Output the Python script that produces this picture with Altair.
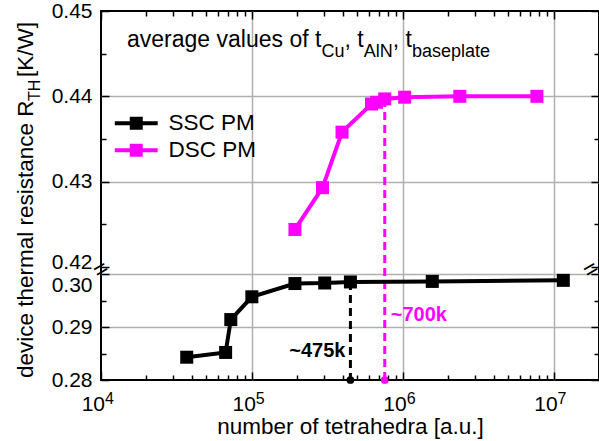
import altair as alt
import pandas as pd

FONT = "Liberation Sans, Arial, Helvetica, sans-serif"

# ---- data ----
SERIES = ["SSC PM", "DSC PM"]
COLORS = ["#000000", "#ff00ff"]

ssc_n = [37000, 67000, 72500, 100000, 193000, 304000, 450000, 1570000, 11600000]
ssc_r = [0.2843, 0.2852, 0.2914, 0.2957, 0.2982, 0.2983, 0.2985, 0.2986, 0.2988]

dsc_n = [193000, 294000, 396000, 621000, 670000, 760000, 1030000, 2390000, 7750000]
dsc_r = [0.4244, 0.4293, 0.4358, 0.4391, 0.4393, 0.4397, 0.4399, 0.4400, 0.4400]

mark_n = [450000, 760000]
mark_r = [0.2985, 0.4397]
mark_label = ["~475k", "~700k"]
mark_series = ["SSC PM", "DSC PM"]

# axis values and tick labels
x_major = [1e4, 1e5, 1e6, 1e7]
x_label_base = ["10", "10", "10", "10"]
x_label_exp = ["4", "5", "6", "7"]
x_minor = [m * 10 ** k for k in (4, 5, 6) for m in range(2, 10)] + [2e7]
y_major = [0.28, 0.29, 0.30, 0.42, 0.43, 0.44, 0.45]
y_minor = [0.285, 0.295, 0.425, 0.435, 0.445]
Y_BASE = 0.28

note_main = ["average values of t", ", t", ", t"]
note_sub = ["Cu", "AlN", "baseplate"]
ytitle_parts = ["device thermal resistance R", "TH", "[K/W]"]
x_title = "number of tetrahedra [a.u.]"

# ---- tables ----
df = pd.DataFrame({
    "n": ssc_n + dsc_n,
    "r": ssc_r + dsc_r,
    "s": [SERIES[0]] * len(ssc_n) + [SERIES[1]] * len(dsc_n),
})
mk = pd.DataFrame({"n": mark_n, "r": mark_r, "s": mark_series, "t": mark_label,
                   "y0": [Y_BASE] * len(mark_n)})
xl = pd.DataFrame({"n": x_major, "b": x_label_base, "e": x_label_exp})
one = pd.DataFrame({"k": [0]})

W, H = 498, 369
xs = alt.Scale(type="log", domain=[1e4, 2e7], nice=False)
ys = alt.Scale(type="linear", domain=[0.28, 0.30, 0.42, 0.45], range=[H, 263, 256, 0],
               nice=False, zero=False)
cs = alt.Scale(domain=SERIES, range=COLORS)

GRID = "#b0b0b0"

main_x_axis = alt.Axis(
    orient="bottom", values=x_major, ticks=False, domain=False, grid=True, labels=False,
    gridColor=GRID, gridWidth=1.5,
    gridOpacity={"condition": {"test": "datum.value == 10000", "value": 0}, "value": 1},
    title=x_title, titleFontSize=22.5, titleFontWeight="normal", titleColor="black",
    titleX=W / 2, titleY=53, titleBaseline="alphabetic", titleAlign="center",
)
main_y_axis = alt.Axis(
    orient="left", values=y_major, format=".2f", ticks=False, domain=False, grid=True,
    gridColor=GRID, gridWidth=1.5,
    gridOpacity={"condition": {"test": "datum.value == 0.28 || datum.value == 0.42 || datum.value == 0.45",
                               "value": 0}, "value": 1},
    labelOffset={"condition": [{"test": "datum.value == 0.42", "value": -5},
                               {"test": "datum.value == 0.3", "value": 11}], "value": 0},
    labelFontSize=21, labelPadding=9, labelFlush=False, labelOverlap=False, labelColor="black",
    title=None,
)


def tick_axis(orient, vals, size):
    return alt.Axis(orient=orient, values=vals, offset=-size, tickSize=size, tickWidth=1.5,
                    tickColor="black", ticks=True, labels=False, domain=False, grid=False,
                    title=None, zindex=1)


def axis_layer(ax_x, ax_y):
    return alt.Chart(df).mark_point(opacity=0).encode(
        x=alt.X("n:Q", scale=xs, axis=ax_x),
        y=alt.Y("r:Q", scale=ys, axis=ax_y),
    )


layers = [
    axis_layer(main_x_axis, main_y_axis),
    axis_layer(tick_axis("bottom", x_major, 8), tick_axis("left", y_major, 8)),
    axis_layer(tick_axis("bottom", x_minor, 5), tick_axis("left", y_minor, 5)),
    axis_layer(tick_axis("top", x_major, 8), tick_axis("right", y_major, 8)),
    axis_layer(tick_axis("top", x_minor, 5), tick_axis("right", y_minor, 5)),
]

X = alt.X("n:Q", scale=xs, axis=None)
Y = alt.Y("r:Q", scale=ys, axis=None)

# x tick labels 10^k drawn as text with a real superscript
xlab_base = alt.Chart(xl).mark_text(
    align="right", baseline="alphabetic", dx=4, fontSize=21, font=FONT, color="black"
).encode(x=X, y=alt.value(H + 31), text="b:N")
xlab_exp = alt.Chart(xl).mark_text(
    align="left", baseline="alphabetic", dx=4, fontSize=16, font=FONT, color="black"
).encode(x=X, y=alt.value(H + 24), text="e:N")

rules = alt.Chart(mk).mark_rule(strokeDash=[8, 5], strokeWidth=3).encode(
    x=X, y=Y, y2=alt.Y2("y0:Q"),
    color=alt.Color("s:N", scale=cs, legend=None),
)
dots = alt.Chart(mk).mark_circle(size=60, opacity=1).encode(
    x=X, y=alt.Y("y0:Q", scale=ys, axis=None),
    color=alt.Color("s:N", scale=cs, legend=None),
)
lines = alt.Chart(df).mark_line(strokeWidth=4).encode(
    x=X, y=Y, color=alt.Color("s:N", scale=cs, legend=None),
)
# legend symbol: a line segment with a square marker (unit = half the square side)
legend_path = ("M-3.3,-0.31L3.3,-0.31L3.3,0.31L-3.3,0.31Z "
               "M-1,-1L1,-1L1,1L-1,1Z")
points = alt.Chart(df).mark_square(size=169, opacity=1).encode(
    x=X, y=Y,
    color=alt.Color("s:N", scale=cs, legend=alt.Legend(
        orient="none", legendX=24, legendY=101, title=None, symbolType=legend_path,
        symbolSize=169, symbolStrokeWidth=0, symbolOpacity=1, labelFontSize=22.5,
        labelFont=FONT, labelColor="black", labelOffset=21, rowPadding=4, padding=0)),
)

lab_ssc = alt.Chart(mk[mk.s == SERIES[0]]).mark_text(
    align="right", baseline="alphabetic", dx=-5, fontSize=20, fontWeight="bold", font=FONT
).encode(x=X, y=alt.value(346), text="t:N", color=alt.Color("s:N", scale=cs, legend=None))
lab_dsc = alt.Chart(mk[mk.s == SERIES[1]]).mark_text(
    align="left", baseline="alphabetic", dx=6, fontSize=20, fontWeight="bold", font=FONT
).encode(x=X, y=alt.value(310), text="t:N", color=alt.Color("s:N", scale=cs, legend=None))


def txt(s, x, y, size, angle=0):
    kw = dict(text=s, align="left", baseline="alphabetic", fontSize=size, font=FONT, color="black")
    if angle:
        kw["angle"] = angle
    return alt.Chart(one).mark_text(**kw).encode(x=alt.value(x), y=alt.value(y))


note = [
    txt(note_main[0], 26, 35.5, 23),
    txt(note_sub[0], 220.5, 45.5, 18),
    txt(note_main[1], 243.5, 35.5, 23),
    txt(note_sub[1], 262.7, 45.5, 18),
    txt(note_main[2], 291.7, 35.5, 23),
    txt(note_sub[2], 310.9, 45.5, 18),
]
ytitle = [
    txt(ytitle_parts[0], -68, 367, 22.5, 270),
    txt(ytitle_parts[1], -61, 90, 16, 270),
    txt(ytitle_parts[2], -68, 66, 22.5, 270),
]
breaks = [
    alt.Chart(one).mark_text(text="=", fontSize=24, angle=330, align="center", baseline="middle",
                             font=FONT, color="black").encode(x=alt.value(0), y=alt.value(259)),
    alt.Chart(one).mark_text(text="=", fontSize=24, angle=330, align="center", baseline="middle",
                             font=FONT, color="black").encode(x=alt.value(W - 8), y=alt.value(259)),
]

chart = alt.layer(
    *layers, rules, lines, points, dots, lab_ssc, lab_dsc, xlab_base, xlab_exp,
    *note, *ytitle, *breaks
).resolve_axis(x="independent", y="independent").resolve_legend(color="independent").properties(
    width=W, height=H,
    autosize=alt.AutoSizeParams(type="none"),
    padding={"left": 101, "top": 11, "right": 0, "bottom": 61},
).configure(font=FONT, background="white").configure_view(stroke="black", strokeWidth=2)

chart.save("out.html", embed_options={"renderer": "svg", "actions": False})
